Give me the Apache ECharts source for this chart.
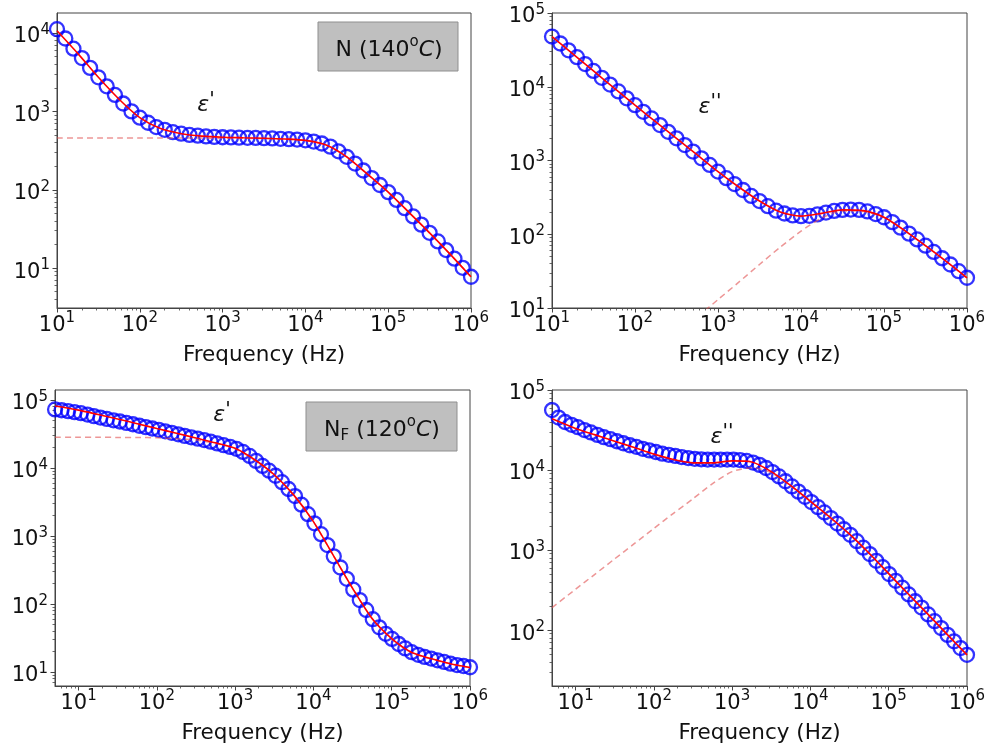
<!DOCTYPE html>
<html>
<head>
<meta charset="utf-8">
<script src="https://cdn.jsdelivr.net/npm/echarts@6/dist/echarts.min.js"></script>
<style>html,body{margin:0;padding:0;background:#fff}#c{width:990px;height:749px}</style>
</head>
<body>
<div id="c"></div>
<script>
// ---------- data ----------
const freqTop = [10,12.6,15.8,20.0,25.1,31.6,39.8,50.1,63.1,79.4,
  100,126,158,200,251,316,398,501,631,794,
  1000,1260,1580,2000,2510,3160,3980,5010,6310,7940,
  10000,12600,15800,20000,25100,31600,39800,50100,63100,79400,
  100000,126000,158000,200000,251000,316000,398000,501000,631000,794000,
  1000000];
const epsRealN = [11200,8510,6310,4790,3590,2720,2090,1620,1260,1000,
  832,716,631,582,543,519,501,490,479,473,
  468,465,462,460,458,455,452,447,442,437,
  427,412,389,355,309,263,216,176,141,115,
  93.3,74.1,58.2,45.7,35.9,28.2,21.9,17.0,13.2,10.1,
  7.76];
const epsImagN = [47900,38600,31200,25200,20300,16400,13200,10700,8630,6970,
  5620,4570,3720,3020,2450,2000,1620,1320,1070,871,
  708,575,479,398,331,282,240,209,191,180,
  176,178,186,197,207,214,216,214,204,188,
  170,146,123,102,85.1,70.0,57.5,47.3,38.9,31.6,
  25.7];
const fitFreqTop = [10,17.8,31.6,56.2,100,178,316,562,1000,1780,3160,5620,10000,17800,31600,56200,100000,178000,316000,562000,1000000];
const fitRealN = [10700,5500,2720,1430,832,603,519,484,468,461,455,445,427,373,263,158,93.3,51.5,28.2,15.0,7.76];
const relRealN = [457,457,457,457,457,457,457,456,455,453,450,442,425,372,262,157,93,51.3,28.1,15.0,7.74];
const fitImagN = [47900,28000,16400,9550,5620,3350,2000,1190,708,437,282,200,176,192,214,209,170,112,70.0,42.9,25.7];
const relImagN = [null,null,null,null,null,null,null,7.53,13.0,22.4,38.9,66.8,110,166,207,204,168,111,69.5,42.7,25.6];

const freqBottom = [5.01,6.06,7.34,8.88,10.7,13.0,15.7,19.0,23.0,27.9,
  33.7,40.8,49.4,59.8,72.3,87.5,106,128,155,188,
  227,275,333,403,487,589,713,863,1040,1260,
  1530,1850,2240,2710,3280,3970,4800,5810,7030,8510,
  10300,12500,15100,18200,22100,26700,32300,39100,47300,57300,
  69300,83800,101000,123000,149000,180000,218000,263000,319000,385000,
  467000,564000,683000,826000,1000000];
const epsRealNF = [72400,70500,68400,66100,63800,61000,57800,55000,52500,50100,
  48200,45900,43900,41700,39800,38000,36300,34500,32800,31200,
  29600,28200,26900,25700,24300,22900,21600,20400,19100,17200,
  15000,12700,10700,9120,7670,6170,4900,3850,2880,2090,
  1530,1060,733,501,343,234,162,114,81.3,59.6,
  45.2,36.3,30.5,25.7,22.1,19.5,17.8,16.6,15.7,14.8,
  14.0,13.2,12.6,12.2,11.7];
const epsImagNF = [56200,45200,39800,36700,34300,31600,29500,27500,25700,24300,
  22900,21600,20400,19500,18400,17600,16800,16000,15500,15000,
  14500,14100,13800,13600,13500,13500,13500,13500,13500,13300,
  13000,12400,11600,10600,9440,8320,7240,6240,5370,4620,
  3980,3430,2950,2510,2140,1820,1550,1290,1070,891,
  733,610,501,412,339,279,229,191,157,129,
  106,87.1,72.4,59.6,49.0];
const fitFreqBottom = [5.01,10,17.8,31.6,56.2,100,178,316,562,1000,1780,3160,5620,10000,17800,31600,56200,100000,178000,316000,562000,1000000];
const fitRealNF = [81300,70800,61000,52500,44700,38000,32400,27500,23400,19500,13200,7940,3980,1620,525,170,61.0,30.9,19.5,15.7,13.2,11.6];
const relRealNF = [28200,28200,28200,28100,28000,27800,26900,25700,22900,19100,13000,7900,3970,1615,523,169,60.5,30.5,19.2,15.5,13.1,11.5];
const fitImagNF = [43700,33100,27500,22900,19100,15800,13500,12300,12300,13000,12600,9550,6380,4070,2570,1580,912,507,282,158,87.7,49.0];
const relImagNF = [191,324,501,776,1200,1860,2880,4370,6760,9550,10700,9230,6310,4030,2540,1570,908,505,281,157,87.5,48.8];

const xTicks = [10,100,1000,10000,100000,1000000];
const yTicksA = [10,100,1000,10000];
const yTicksB = [10,100,1000,10000,100000];
const yTicksC = [10,100,1000,10000,100000];
const yTicksD = [100,1000,10000,100000];

// ---------- layout ----------
const FONT = 'DejaVu Sans';
const TXT = '#111';
const AX = '#444';
const grids = [
  {left:57, top:13, width:414, height:295, xMin:10, xMax:1e6, yMin:3.1, yMax:18000, yt:yTicksA},
  {left:552, top:13, width:415, height:295, xMin:10, xMax:1e6, yMin:10, yMax:1e5, yt:yTicksB},
  {left:55, top:390, width:415, height:296, xMin:5, xMax:1e6, yMin:6.2, yMax:140000, yt:yTicksC},
  {left:552, top:390, width:415, height:296, xMin:5, xMax:1e6, yMin:20, yMax:1e5, yt:yTicksD}
];
function minors(lo, hi){
  const out=[];
  for(let e=-1;e<7;e++){for(let m=2;m<=9;m++){const v=m*Math.pow(10,e); if(v>lo*1.0001 && v<hi*0.9999) out.push(v);}}
  return out;
}
const rich = {
  b:{fontSize:21, lineHeight:21, padding:[4,0,0,0], verticalAlign:'top', fontFamily:FONT, color:TXT},
  s:{fontSize:15, lineHeight:15, verticalAlign:'top', fontFamily:FONT, color:TXT}
};
const powLabel = v => '{b|10}{s|' + Math.round(Math.log10(v)) + '}';

const xAxis=[], yAxis=[];
grids.forEach((g,i)=>{
  xAxis.push({type:'log', gridIndex:i, min:g.xMin, max:g.xMax, position:'bottom',
    name:'Frequency (Hz)', nameLocation:'middle', nameGap:36,
    nameTextStyle:{fontSize:21.5, fontFamily:FONT, color:TXT},
    axisLine:{show:true, onZero:false, lineStyle:{color:AX, width:1}},
    axisTick:{show:true, length:4.5, lineStyle:{color:AX, width:1}, customValues:xTicks},
    axisLabel:{show:true, margin:3, customValues:xTicks, formatter:powLabel, rich:rich},
    splitLine:{show:false}});
  yAxis.push({type:'log', gridIndex:i, min:g.yMin, max:g.yMax, position:'left',
    axisLine:{show:true, onZero:false, lineStyle:{color:AX, width:1}},
    axisTick:{show:true, length:4.5, lineStyle:{color:AX, width:1}, customValues:g.yt},
    axisLabel:{show:true, margin:7, customValues:g.yt, formatter:powLabel, rich:rich},
    splitLine:{show:false}});
});
grids.forEach((g,i)=>{
  xAxis.push({type:'log', gridIndex:i, min:g.xMin, max:g.xMax, position:'bottom', offset:0,
    axisLine:{show:false, onZero:false},
    axisTick:{show:true, length:2.5, lineStyle:{color:AX, width:0.8}, customValues:minors(g.xMin,g.xMax)},
    axisLabel:{show:false}, splitLine:{show:false}});
  yAxis.push({type:'log', gridIndex:i, min:g.yMin, max:g.yMax, position:'left', offset:0,
    axisLine:{show:false, onZero:false},
    axisTick:{show:true, length:2.5, lineStyle:{color:AX, width:0.8}, customValues:minors(g.yMin,g.yMax)},
    axisLabel:{show:false}, splitLine:{show:false}});
});

const pairs = (xs, ys) => xs.map((x,k)=>[x, ys[k]]);
const panels = [
  {f:freqTop, d:epsRealN, ff:fitFreqTop, fit:fitRealN, rel:relRealN},
  {f:freqTop, d:epsImagN, ff:fitFreqTop, fit:fitImagN, rel:relImagN},
  {f:freqBottom, d:epsRealNF, ff:fitFreqBottom, fit:fitRealNF, rel:relRealNF},
  {f:freqBottom, d:epsImagNF, ff:fitFreqBottom, fit:fitImagNF, rel:relImagNF}
];
const series=[];
panels.forEach((p,i)=>{
  series.push({type:'scatter', xAxisIndex:i, yAxisIndex:i, data:pairs(p.f,p.d), symbol:'circle', symbolSize:14,
    itemStyle:{color:'rgba(0,0,0,0)', borderColor:'#0000ff', borderWidth:2.3}, clip:false, z:2});
  series.push({type:'line', xAxisIndex:i, yAxisIndex:i, data:pairs(p.ff,p.rel), showSymbol:false, smooth:0.25,
    lineStyle:{color:'rgba(225,80,80,0.6)', width:1.5, type:[6,4]}, clip:true, z:3});
  series.push({type:'line', xAxisIndex:i, yAxisIndex:i, data:pairs(p.ff,p.fit), showSymbol:false, smooth:0.25,
    lineStyle:{color:'#ff0000', width:1.6}, clip:true, z:4});
});

const zr = {
  b:{fontSize:22, lineHeight:22, padding:[4,0,0,0], verticalAlign:'top', fontFamily:FONT, fill:TXT},
  s:{fontSize:15, lineHeight:15, verticalAlign:'top', fontFamily:FONT, fill:TXT},
  u:{fontSize:15, lineHeight:15, padding:[14,0,0,0], verticalAlign:'top', fontFamily:FONT, fill:TXT},
  i:{fontSize:22, lineHeight:22, padding:[4,0,0,0], verticalAlign:'top', fontFamily:FONT, fontStyle:'italic', fill:TXT}
};
const er = {
  e:{fontSize:22, lineHeight:26, fontFamily:FONT, fontStyle:'italic', fill:TXT, verticalAlign:'bottom'},
  p:{fontSize:20, lineHeight:20, fontFamily:FONT, fontStyle:'italic', fill:TXT, verticalAlign:'top'}
};
const epsStyle = t => ({text:t, rich:er, align:'center', verticalAlign:'middle'});
const graphic = [
  {type:'rect', shape:{x:318, y:22, width:140, height:49}, style:{fill:'#bfbfbf', stroke:'#8f8f8f', lineWidth:1}, z:10},
  {type:'text', x:389, y:46, style:{text:'{b|N (140}{s|o}{i|C}{b|)}', rich:zr, align:'center', verticalAlign:'middle'}, z:11},
  {type:'rect', shape:{x:306, y:402, width:151, height:49}, style:{fill:'#bfbfbf', stroke:'#8f8f8f', lineWidth:1}, z:10},
  {type:'text', x:382, y:426, style:{text:'{b|N}{u|F}{b| (120}{s|o}{i|C}{b|)}', rich:zr, align:'center', verticalAlign:'middle'}, z:11},
  {type:'text', x:206, y:103, style:epsStyle("{e|ε}{p|'}"), z:11},
  {type:'text', x:710, y:105, style:epsStyle("{e|ε}{p|''}"), z:11},
  {type:'text', x:222, y:413, style:epsStyle("{e|ε}{p|'}"), z:11},
  {type:'text', x:722, y:435, style:epsStyle("{e|ε}{p|''}"), z:11}
];

const chart = echarts.init(document.getElementById('c'), null, {renderer:'canvas'});
chart.setOption({
  animation:false,
  backgroundColor:'#fff',
  grid: grids.map(g=>({left:g.left, top:g.top, width:g.width, height:g.height, show:true, borderColor:AX, borderWidth:1, backgroundColor:'#fff', containLabel:false, outerBoundsMode:'none'})),
  xAxis, yAxis, series, graphic
});
</script>
</body>
</html>
